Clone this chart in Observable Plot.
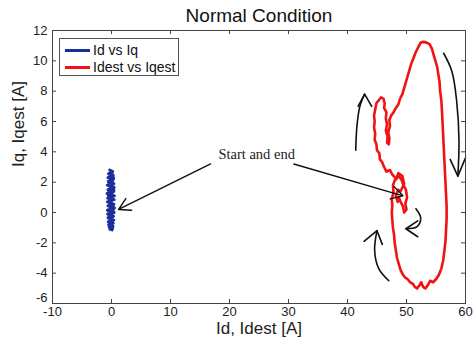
<!DOCTYPE html>
<html><head><meta charset="utf-8">
<script src="https://cdn.jsdelivr.net/npm/d3@7"></script>
<script src="https://cdn.jsdelivr.net/npm/@observablehq/plot@0.6"></script>
<style>
body{margin:0;background:#fff;}
#wrap{position:relative;width:473px;height:345px;font-family:"Liberation Sans",Arial,sans-serif;}
#legend{position:absolute;left:59px;top:38px;width:120px;height:38px;border:1px solid #555;background:#fff;font-size:14px;color:#111;box-sizing:border-box;}
.row{position:absolute;left:5px;display:flex;align-items:center;height:16px;white-space:nowrap;}
.sw{width:25px;height:3px;margin-right:3px;}
</style></head><body><div id="wrap"><div id="legend"></div></div>
<script>
const title = "Normal Condition";
const xLabel = "Id, Idest [A]";
const yLabel = "Iq, Iqest [A]";
const xTicks = [-10, 0, 10, 20, 30, 40, 50, 60];
const yTicks = [-6, -4, -2, 0, 2, 4, 6, 8, 10, 12];
const seriesNames = ["Id vs Iq", "Idest vs Iqest"];
const seriesColors = ["#1a2f9c", "#f21212"];

// Id vs Iq (blue cluster near origin)
const blueX = [-0.3,0.2,-0.5,0.3,-0.6,0.35,-0.55,0.4,-0.7,0.45,-0.6,0.4,-0.75,0.5,-0.65,0.45,-0.7,0.4,-0.6,0.5,-0.7,0.45,-0.65,0.35,-0.6,0.4,-0.55,0.3,-0.5,0.25,-0.4,0.2,-0.3,0.1,-0.2,0.3,-0.45,0.4,-0.5,0.35,-0.6,0.3,-0.4,0.1];
const blueY = [2.8,2.7,2.55,2.45,2.3,2.2,2.05,1.9,1.8,1.65,1.5,1.4,1.25,1.1,0.95,0.85,0.7,0.55,0.45,0.3,0.15,0.0,-0.1,-0.25,-0.35,-0.5,-0.6,-0.7,-0.8,-0.9,-0.95,-1.05,-1.1,-1.15,-0.6,0.2,0.9,1.5,2.0,2.3,1.2,0.4,-0.3,2.6];

// Idest vs Iqest (red loop)
const redX = [49.0,49.6,49.3,48.6,48.3,47.6,47.2,46.6,46.2,45.9,45.5,45.4,45.0,44.9,44.6,44.7,44.5,44.6,44.5,44.7,44.9,45.3,45.7,46.1,46.3,46.2,46.6,46.5,46.7,46.5,46.8,46.7,47.0,47.1,46.9,47.2,47.1,47.4,47.8,48.2,48.6,48.9,49.3,49.6,49.9,50.2,50.5,50.8,51.2,51.6,52.0,52.4,52.9,53.4,53.9,54.3,54.6,54.9,55.2,55.4,55.6,55.7,55.9,56.0,56.1,56.2,56.3,56.4,56.5,56.6,56.7,56.8,56.8,56.7,56.6,56.4,56.2,55.9,55.5,55.0,54.5,54.0,53.6,53.2,52.8,52.5,52.2,51.8,51.4,51.1,50.6,50.2,49.8,49.4,49.0,48.7,48.4,48.2,48.0,47.9,47.7,47.6,47.5,47.6,47.5,47.8,47.7,48.1,48.6,49.1,49.5,49.9,50.1,49.8,50.0,49.6,49.4,49.0,48.7,48.5,48.2,48.6,49.0];
const redY = [1.4,1.9,2.4,2.6,2.2,2.5,2.8,2.7,3.0,3.3,3.5,3.9,4.1,4.5,4.8,5.2,5.6,6.0,6.4,6.8,7.2,7.4,7.6,7.5,7.2,6.9,6.6,6.2,5.8,5.4,5.0,4.6,4.5,4.9,5.3,5.7,6.1,6.4,6.6,6.9,7.1,7.5,7.8,8.2,8.6,9.0,9.4,9.8,10.2,10.6,10.9,11.2,11.25,11.2,11.1,10.8,10.4,10.0,9.6,9.1,8.6,8.0,7.4,6.8,6.0,5.2,4.4,3.6,2.8,2.0,1.2,0.4,-0.4,-1.2,-1.9,-2.6,-3.2,-3.7,-4.1,-4.4,-4.6,-4.5,-4.8,-5.0,-4.9,-4.6,-4.8,-5.0,-4.9,-4.7,-4.6,-4.4,-4.3,-4.1,-3.8,-3.4,-3.0,-2.5,-2.0,-1.5,-1.0,-0.5,0.0,0.5,0.9,1.3,1.8,2.2,2.4,2.2,1.8,1.5,1.0,0.6,0.2,0.0,0.4,0.7,1.0,0.7,1.1,1.5,1.4];

// annotation: "Start and end" label and straight arrows
const noteText = "Start and end";
const noteX = 24.6, noteY = 3.5;
const straightArrowX1 = [16.8, 30.9];
const straightArrowY1 = [3.2, 3.2];
const straightArrowX2 = [1.2, 49.4];
const straightArrowY2 = [0.2, 1.1];

// hand-drawn curved arrows: shafts and heads (id per arrow)
const shaftId = [0,0,0,0, 1,1,1,1,1, 2,2,2,2, 3,3,3,3];
const shaftX = [41.4,41.6,42.1,42.9, 56.3,57.7,58.5,58.9,58.7, 47.0,45.3,44.6,45.0, 51.6,52.4,51.8,49.9];
const shaftY = [4.1,5.7,7.0,7.8, 10.5,9.3,7.35,4.7,2.4, -4.5,-3.7,-2.5,-1.2, 0.25,-0.35,-0.93,-1.07];
const headId = [0,0,0, 1,1,1, 2,2,2, 3,3,3];
const headX = [41.8,42.9,44.1, 57.4,58.7,60.0, 42.8,45.0,45.9, 51.9,49.9,51.9];
const headY = [7.0,7.8,7.0, 3.5,2.4,3.6, -1.9,-1.2,-2.1, -0.55,-1.07,-1.6];

const blue = blueX.map((x, i) => ({x, y: blueY[i]}));
const red = redX.map((x, i) => ({x, y: redY[i]}));
const straight = straightArrowX1.map((x1, i) => ({x1, y1: straightArrowY1[i], x2: straightArrowX2[i], y2: straightArrowY2[i]}));
const shafts = shaftX.map((x, i) => ({x, y: shaftY[i], id: shaftId[i]}));
const heads = headX.map((x, i) => ({x, y: headY[i], id: headId[i]}));

const W = 473, H = 345, mL = 52, mR = 8, mT = 30, mB = 42;
const pW = W - mL - mR, pH = H - mT - mB;
const axisColor = "#444";

const chart = Plot.plot({
  width: W, height: H,
  marginLeft: mL, marginRight: mR, marginTop: mT, marginBottom: mB,
  style: {fontFamily: "'Liberation Sans', Arial, sans-serif", background: "transparent", color: "#222"},
  x: {domain: [-10, 60], axis: null},
  y: {domain: [-6, 12], axis: null},
  marks: [
    Plot.line(blue, {x: "x", y: "y", stroke: seriesColors[0], strokeWidth: 3}),
    Plot.line(red, {x: "x", y: "y", stroke: seriesColors[1], strokeWidth: 2.6, strokeLinejoin: "round"}),
    Plot.arrow(straight, {x1: "x1", y1: "y1", x2: "x2", y2: "y2", stroke: "#111", strokeWidth: 1.4, headLength: 14}),
    Plot.line(shafts, {x: "x", y: "y", z: "id", stroke: "#111", strokeWidth: 1.6, curve: "catmull-rom"}),
    Plot.line(heads, {x: "x", y: "y", z: "id", stroke: "#111", strokeWidth: 1.6}),
    Plot.text([noteText], {x: () => noteX, y: () => noteY, text: d => d, fontFamily: "'Liberation Serif', 'Times New Roman', serif", fontSize: 14.5, fill: "#222", lineAnchor: "bottom"}),
    Plot.frame({stroke: axisColor, strokeWidth: 1}),
    Plot.tickX(xTicks, {x: d => d, insetTop: pH - 4, stroke: axisColor}),
    Plot.tickX(xTicks, {x: d => d, insetBottom: pH - 4, stroke: axisColor}),
    Plot.tickY(yTicks, {y: d => d, insetRight: pW - 4, stroke: axisColor}),
    Plot.tickY(yTicks, {y: d => d, insetLeft: pW - 4, stroke: axisColor}),
    Plot.axisX(xTicks, {anchor: "bottom", tickSize: 0, tickPadding: 3, fontSize: 13, label: null, tickFormat: d => String(d), fill: "#222"}),
    Plot.axisY(yTicks.slice(1), {anchor: "left", tickSize: 0, tickPadding: 5, fontSize: 13, label: null, tickFormat: d => String(d), fill: "#222"}),
    Plot.axisY(yTicks.slice(0, 1), {anchor: "left", tickSize: 0, tickPadding: 5, fontSize: 13, label: null, tickFormat: d => String(d), fill: "#222", dy: -6}),
    Plot.text([xLabel], {frameAnchor: "bottom", dy: 25, lineAnchor: "middle", text: d => d, fontSize: 17, fill: "#222"}),
    Plot.text([yLabel], {frameAnchor: "left", dx: -34, rotate: -90, lineAnchor: "middle", text: d => d, fontSize: 17, fill: "#222"}),
    Plot.text([title], {frameAnchor: "top", dy: -15, lineAnchor: "middle", text: d => d, fontSize: 19, fill: "#111"})
  ]
});
document.getElementById("wrap").prepend(chart);
chart.style.position = "absolute"; chart.style.left = "0"; chart.style.top = "0";

const legend = document.getElementById("legend");
legend.style.zIndex = 2;
seriesNames.forEach((name, i) => {
  const row = document.createElement("div");
  row.className = "row";
  row.style.top = (3 + i * 17) + "px";
  const sw = document.createElement("div");
  sw.className = "sw"; sw.style.background = seriesColors[i];
  const t = document.createElement("span"); t.textContent = name;
  row.append(sw, t);
  legend.append(row);
});
</script></body></html>
